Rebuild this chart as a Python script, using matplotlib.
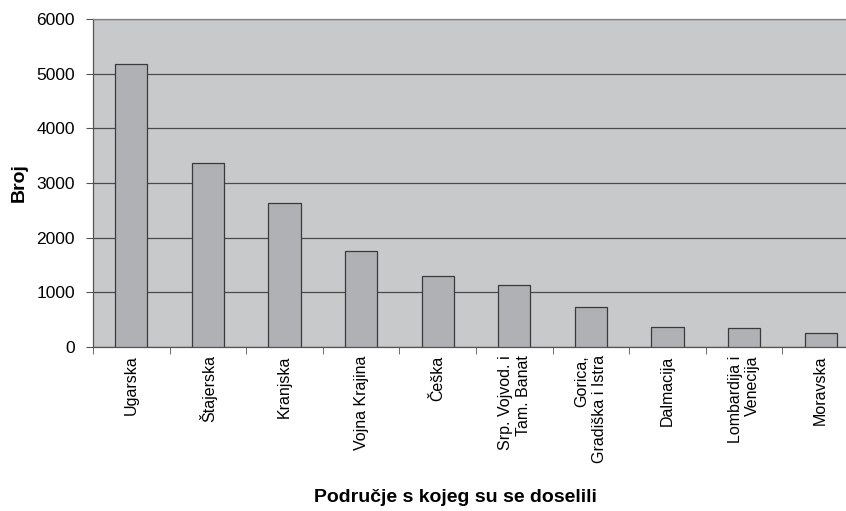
import matplotlib
matplotlib.use("Agg")
import matplotlib.pyplot as plt
import numpy as np

plt.rcParams['font.family'] = ['Liberation Sans', 'DejaVu Sans']

categories = ["Ugarska", "Štajerska", "Kranjska", "Vojna Krajina", "Češka",
              "Srp. Vojvod. i\nTam. Banat", "Gorica,\nGradiška i Istra",
              "Dalmacija", "Lombardija i\nVenecija", "Moravska"]
values = [5170, 3360, 2630, 1750, 1290, 1130, 740, 375, 345, 265]
yticks = [0, 1000, 2000, 3000, 4000, 5000, 6000]

fig = plt.figure(figsize=(8.46, 5.11), dpi=100)
ax = fig.add_axes([93/846, 1-347/511, 766/846, 328/511])
ax.set_facecolor('#c8c9cb')
x = np.arange(len(categories))
ax.bar(x, values, width=0.42, color='#b0b1b5', edgecolor='#3a3a3a', linewidth=0.9, zorder=3)
ax.set_xlim(-0.5, len(categories)-0.5)
ax.set_ylim(0, 6000)
ax.set_yticks(yticks)
ax.set_yticklabels([str(t) for t in yticks], fontsize=12.5)
ax.yaxis.grid(True, color='#4a4a4a', linewidth=0.9, zorder=1)
ax.set_xticks(x)
ax.set_xticklabels(categories, rotation=90, fontsize=11.5, va='top', ha='center', multialignment='right')
ax.set_xticks(np.arange(len(categories)+1)-0.5, minor=True)
ax.tick_params(axis='x', which='major', length=0, pad=6)
ax.tick_params(axis='x', which='minor', length=5, color='#555555')
ax.tick_params(axis='y', length=5, color='#555555', pad=8)
for s in ['top', 'right']:
    ax.spines[s].set_color('#808080')
    ax.spines[s].set_linewidth(0.9)
for s in ['left', 'bottom']:
    ax.spines[s].set_color('#555555')
    ax.spines[s].set_linewidth(0.9)
ax.set_ylabel("Broj", fontsize=14, fontweight='bold', labelpad=6)
fig.text(455/846, 1-498/511, "Područje s kojeg su se doselili", fontsize=14,
         fontweight='bold', ha='center', va='center')
fig.savefig("out.png", dpi=100)
